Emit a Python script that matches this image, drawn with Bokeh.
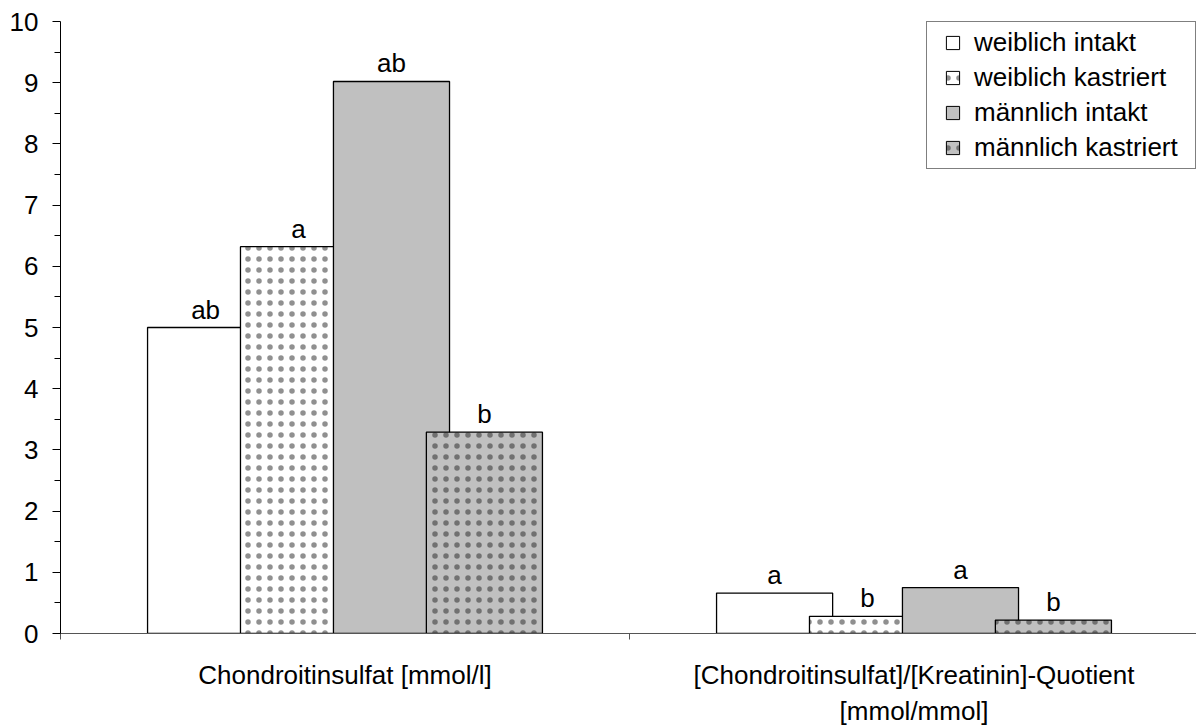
from bokeh.plotting import figure
from bokeh.models import Range1d, FixedTicker, Legend, LegendItem
from bokeh.embed import file_html
from bokeh.resources import INLINE

# ---- data ----
categories = ["Chondroitinsulfat [mmol/l]",
              "[Chondroitinsulfat]/[Kreatinin]-Quotient\n[mmol/mmol]"]
series_names = ["weiblich intakt", "weiblich kastriert",
                "männlich intakt", "männlich kastriert"]
weiblich_intakt = [5.0, 0.66]
weiblich_kastriert = [6.32, 0.28]
maennlich_intakt = [9.02, 0.75]
maennlich_kastriert = [3.29, 0.22]
letters_weiblich_intakt = ["ab", "a"]
letters_weiblich_kastriert = ["a", "b"]
letters_maennlich_intakt = ["ab", "a"]
letters_maennlich_kastriert = ["b", "b"]
y_ticks = list(range(0, 11))
y_minor_ticks = [t + 0.5 for t in range(0, 10)]

FONT = "Liberation Sans"
FS = "26px"
CAT_PX = 569
FRAME_W = 1136

p = figure(width=1196, height=728, output_backend="svg", toolbar_location=None,
           x_range=Range1d(0, FRAME_W / CAT_PX), y_range=Range1d(0, 10),
           min_border_left=60, min_border_right=0, min_border_top=21,
           min_border_bottom=85)
p.outline_line_color = None
p.xgrid.visible = False
p.ygrid.visible = False
p.background_fill_color = "white"
p.border_fill_color = "white"

# ---- axes ----
n_cat = len(categories)
p.xaxis.ticker = FixedTicker(ticks=[i + 0.5 for i in range(n_cat)],
                             minor_ticks=list(range(n_cat + 1)))
p.xaxis.major_label_overrides = {i + 0.5: c for i, c in enumerate(categories)}
p.xaxis.major_tick_out = 0
p.xaxis.major_tick_in = 0
p.xaxis.minor_tick_out = 6
p.xaxis.minor_tick_in = 0
p.xaxis.major_label_standoff = 20
p.xaxis.axis_line_color = "#555555"
p.xaxis.minor_tick_line_color = "#555555"
p.xaxis.major_label_text_font = FONT
p.xaxis.major_label_text_font_size = FS
p.xaxis.major_label_text_color = "black"

p.yaxis.ticker = FixedTicker(ticks=y_ticks, minor_ticks=y_minor_ticks)
p.yaxis.major_tick_out = 8
p.yaxis.major_tick_in = 0
p.yaxis.minor_tick_out = 6
p.yaxis.minor_tick_in = 0
p.yaxis.major_label_standoff = 14
p.yaxis.axis_line_color = "black"
p.yaxis.major_tick_line_color = "black"
p.yaxis.minor_tick_line_color = "black"
p.yaxis.major_label_text_font = FONT
p.yaxis.major_label_text_font_size = FS
p.yaxis.major_label_text_color = "black"

# ---- bars ----
offsets = [-0.245, -0.0817, 0.0817, 0.245]
bar_w = 0.204
series = [
    (series_names[0], weiblich_intakt, letters_weiblich_intakt, "white", False),
    (series_names[1], weiblich_kastriert, letters_weiblich_kastriert, "white", True),
    (series_names[2], maennlich_intakt, letters_maennlich_intakt, "#c0c0c0", False),
    (series_names[3], maennlich_kastriert, letters_maennlich_kastriert, "#c0c0c0", True),
]

items = []
for (name, vals, letters, fill, dotted), off in zip(series, offsets):
    xs = [i + 0.5 + off for i in range(n_cat)]
    hatch_kw = {}
    if dotted:
        hatch_kw = dict(hatch_pattern="dot", hatch_color="#222222",
                        hatch_alpha=0.5, hatch_scale=11, hatch_weight=1)
    p.vbar(x=xs, top=vals, bottom=0, width=bar_w, fill_color=fill,
           line_color="black", line_width=1.3, **hatch_kw)
    p.text(x=xs, y=vals, text=letters, text_align="center",
           text_baseline="alphabetic", y_offset=-18,
           text_font={"value": FONT}, text_font_size=FS, text_color="black")
    # legend proxy: placed below the visible y range so it is never drawn in the plot
    proxy = p.scatter(x=xs, y=[p.y_range.start - 10] * n_cat, marker="square",
                      fill_color=fill, line_color="black", line_width=1, **hatch_kw)
    items.append(LegendItem(label=name, renderers=[proxy]))

legend = Legend(items=items, location="top_right", margin=0, padding=4,
                spacing=2, glyph_width=43, glyph_height=33, label_height=33,
                label_standoff=0, label_width=217,
                border_line_color="black", border_line_width=1,
                background_fill_color="white", background_fill_alpha=1,
                label_text_font=FONT, label_text_font_size=FS,
                label_text_color="black")
p.add_layout(legend)

open("out.html", "w").write(file_html(p, INLINE))
